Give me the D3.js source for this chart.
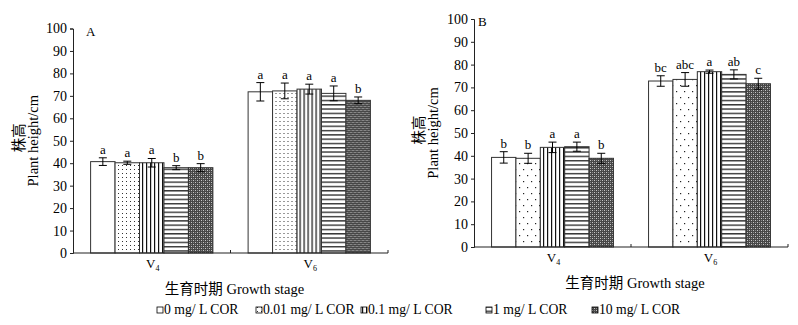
<!DOCTYPE html>
<html>
<head>
<meta charset="utf-8">
<script src="https://cdn.jsdelivr.net/npm/d3@7/dist/d3.min.js"></script>
<style>
  body { margin: 0; background: #fff; }
  text { font-family: "Liberation Serif", "Noto Sans CJK SC", serif; fill: #000; }
</style>
</head>
<body>
<svg id="viz" width="798" height="325"></svg>
<script>
// growth stages and treatments
var stages = ["V4", "V6"];
var stageSub = ["4", "6"];
var treatments = ["0 mg/ L COR", "0.01 mg/ L COR", "0.1 mg/ L COR", "1 mg/ L COR", "10 mg/ L COR"];
var yTicks = [0, 10, 20, 30, 40, 50, 60, 70, 80, 90, 100];

// panel A values (rows = stages, cols = treatments)
var heightA = [[40.7, 40.2, 40.2, 38.0, 38.0], [71.8, 72.2, 73.0, 71.1, 68.0]];
var errA = [[1.7, 0.7, 1.9, 0.9, 1.8], [4.1, 3.5, 2.2, 3.3, 1.5]];
var lettersA = [["a", "a", "a", "b", "b"], ["a", "a", "a", "a", "b"]];

// panel B values
var heightB = [[39.3, 38.9, 43.7, 44.0, 38.9], [72.8, 73.5, 76.9, 75.7, 71.6]];
var errB = [[2.5, 2.2, 2.3, 2.0, 2.2], [2.3, 3.0, 0.7, 2.0, 2.4]];
var lettersB = [["b", "b", "a", "a", "b"], ["bc", "abc", "a", "ab", "c"]];

var svg = d3.select("#viz");
var defs = svg.append("defs");

// fill patterns
function pat(id, w, h, bg) {
  var p = defs.append("pattern").attr("id", id)
    .attr("patternUnits", "userSpaceOnUse").attr("width", w).attr("height", h);
  p.append("rect").attr("width", w).attr("height", h).attr("fill", bg);
  return p;
}
pat("p-white", 4, 4, "#fff");
var dA = pat("p-dotsA", 4, 4, "#fff");
dA.append("rect").attr("x", 1).attr("y", 1).attr("width", 1).attr("height", 1).attr("fill", "#333");
var dB = pat("p-dotsB", 8, 12, "#fff");
dB.append("rect").attr("x", 1).attr("y", 1).attr("width", 1.2).attr("height", 1.2).attr("fill", "#222");
dB.append("rect").attr("x", 5).attr("y", 7).attr("width", 1.2).attr("height", 1.2).attr("fill", "#222");
var vl = pat("p-vert", 4, 4, "#fff");
vl.append("rect").attr("x", 1).attr("y", 0).attr("width", 1.2).attr("height", 4).attr("fill", "#111");
var hl = pat("p-horz", 4, 4.3, "#fff");
hl.append("rect").attr("x", 0).attr("y", 1).attr("width", 4).attr("height", 1.2).attr("fill", "#111");
var ck = pat("p-check", 4, 4, "#474747");
ck.append("rect").attr("x", 0).attr("y", 0).attr("width", 1).attr("height", 1).attr("fill", "#c8c8c8");
ck.append("rect").attr("x", 2).attr("y", 2).attr("width", 1).attr("height", 1).attr("fill", "#c8c8c8");
ck.append("rect").attr("x", 2).attr("y", 0).attr("width", 1).attr("height", 1).attr("fill", "#888");
ck.append("rect").attr("x", 0).attr("y", 2).attr("width", 1).attr("height", 1).attr("fill", "#888");

var fillsA = ["url(#p-white)", "url(#p-dotsA)", "url(#p-vert)", "url(#p-horz)", "url(#p-check)"];
var fillsB = ["url(#p-white)", "url(#p-dotsB)", "url(#p-vert)", "url(#p-horz)", "url(#p-check)"];

function drawPanel(cfg) {
  var g = svg.append("g").attr("id", "panel-" + cfg.tag);

  var y = d3.scaleLinear().domain([0, 100]).range([cfg.bottom, cfg.top]);
  var x0 = d3.scaleBand().domain(stages).range([cfg.left, cfg.right]).padding(0);
  var x1 = d3.scaleBand().domain(treatments).range([0, x0.bandwidth()])
    .paddingInner(0).paddingOuter(0.72);

  // y axis
  var yAxis = d3.axisLeft(y).tickValues(yTicks).tickSize(3).tickPadding(3);
  var ya = g.append("g").attr("transform", "translate(" + cfg.left + ",0)").call(yAxis);
  ya.attr("font-family", null);
  ya.select(".domain").attr("stroke", "#222");
  ya.selectAll(".tick line").attr("stroke", "#222");
  ya.selectAll("text").style("font-size", "14px");

  // bars
  var groups = g.selectAll(".stage")
    .data(stages)
   .enter().append("g")
    .attr("class", "stage")
    .attr("transform", d => "translate(" + x0(d) + ",0)");

  groups.each(function(s, si) {
    var grp = d3.select(this);
    var rows = treatments.map((t, ti) => ({
      t: t, v: cfg.values[si][ti], e: cfg.errors[si][ti], l: cfg.letters[si][ti], ti: ti
    }));
    grp.selectAll(".bar")
      .data(rows)
     .enter().append("rect")
      .attr("class", "bar")
      .attr("x", d => x1(d.t))
      .attr("width", x1.bandwidth())
      .attr("y", d => y(d.v))
      .attr("height", d => y(0) - y(d.v))
      .attr("fill", d => cfg.fills[d.ti])
      .attr("stroke", "#333")
      .attr("stroke-width", 1);

    // error bars
    var eb = grp.selectAll(".err")
      .data(rows)
     .enter().append("g")
      .attr("class", "err")
      .attr("stroke", "#000")
      .attr("stroke-width", 1);
    eb.append("line")
      .attr("x1", d => x1(d.t) + x1.bandwidth() / 2)
      .attr("x2", d => x1(d.t) + x1.bandwidth() / 2)
      .attr("y1", d => y(d.v + d.e))
      .attr("y2", d => y(d.v - d.e));
    eb.append("line")
      .attr("x1", d => x1(d.t) + x1.bandwidth() / 2 - 4)
      .attr("x2", d => x1(d.t) + x1.bandwidth() / 2 + 4)
      .attr("y1", d => y(d.v + d.e))
      .attr("y2", d => y(d.v + d.e));
    eb.append("line")
      .attr("x1", d => x1(d.t) + x1.bandwidth() / 2 - 4)
      .attr("x2", d => x1(d.t) + x1.bandwidth() / 2 + 4)
      .attr("y1", d => y(d.v - d.e))
      .attr("y2", d => y(d.v - d.e));

    // significance letters
    grp.selectAll(".sig")
      .data(rows)
     .enter().append("text")
      .attr("class", "sig")
      .attr("x", d => x1(d.t) + x1.bandwidth() / 2)
      .attr("y", d => y(d.v + d.e) - 4)
      .attr("text-anchor", "middle")
      .style("font-size", "13px")
      .text(d => d.l);
  });

  // x axis line + inward ticks at band edges
  g.append("line")
    .attr("x1", cfg.left).attr("x2", cfg.right)
    .attr("y1", y(0)).attr("y2", y(0))
    .attr("stroke", "#222").attr("stroke-width", 1.2);
  g.selectAll(".xtick")
    .data(stages)
   .enter().append("line")
    .attr("class", "xtick")
    .attr("x1", d => x0(d) + x0.bandwidth())
    .attr("x2", d => x0(d) + x0.bandwidth())
    .attr("y1", y(0)).attr("y2", y(0) - 3)
    .attr("stroke", "#222");

  // category labels with subscript
  var cl = g.selectAll(".cat")
    .data(stages)
   .enter().append("text")
    .attr("class", "cat")
    .attr("x", d => x0(d) + x0.bandwidth() / 2 + 1)
    .attr("y", y(0) + 15)
    .attr("text-anchor", "middle")
    .style("font-size", "13px");
  cl.append("tspan").text("V");
  cl.append("tspan").attr("dy", 3).style("font-size", "8px").text((d, i) => stageSub[i]);

  // x title
  g.append("text")
    .attr("x", (cfg.left + cfg.right) / 2 + 4)
    .attr("y", y(0) + 41)
    .attr("text-anchor", "middle")
    .style("font-size", "14.5px")
    .text("生育时期 Growth stage");

  // y titles
  var cy = (cfg.top + cfg.bottom) / 2;
  g.append("text")
    .attr("transform", "translate(" + cfg.ycn + "," + (cy - 3) + ") rotate(-90)")
    .attr("text-anchor", "middle")
    .attr("dominant-baseline", "central")
    .style("font-size", "14.5px")
    .text("株高");
  g.append("text")
    .attr("transform", "translate(" + cfg.yen + "," + cy + ") rotate(-90)")
    .attr("text-anchor", "middle")
    .attr("dominant-baseline", "central")
    .style("font-size", "14.5px")
    .text("Plant height/cm");

  // panel letter
  g.append("text")
    .attr("x", cfg.labelX).attr("y", cfg.top + 7)
    .style("font-size", "13px")
    .text(cfg.tag);
}

drawPanel({ tag: "A", left: 73, right: 388, top: 28.5, bottom: 253,
  values: heightA, errors: errA, letters: lettersA, fills: fillsA,
  ycn: 19, yen: 33, labelX: 86 });
drawPanel({ tag: "B", left: 474, right: 788, top: 19, bottom: 247,
  values: heightB, errors: errB, letters: lettersB, fills: fillsB,
  ycn: 419, yen: 433, labelX: 478 });

// legend (items sit on tab stops)
var legendStops = [157, 256, 361, 486, 592];
var legend = svg.append("g").attr("id", "legend");
legend.selectAll(".leg")
  .data(treatments)
 .enter().append("g")
  .attr("class", "leg")
  .attr("transform", (d, i) => "translate(" + legendStops[i] + ",314)")
  .each(function(t, i) {
    var item = d3.select(this);
    item.append("rect")
      .attr("x", 0).attr("y", -7).attr("width", 6).attr("height", 6)
      .attr("fill", fillsA[i]).attr("stroke", "#000").attr("stroke-width", 0.8);
    item.append("text")
      .attr("x", 7).attr("y", 0)
      .style("font-size", "13.7px")
      .text(t);
  });
</script>
</body>
</html>
